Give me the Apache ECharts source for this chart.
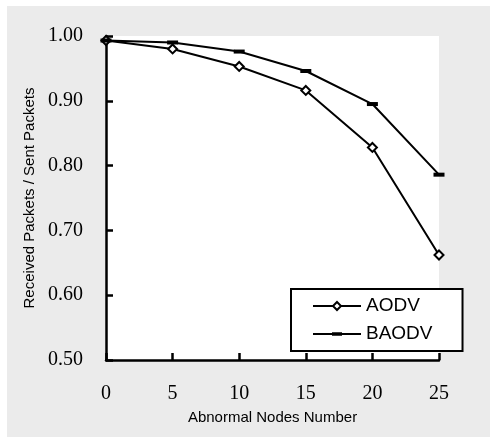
<!DOCTYPE html>
<html>
<head>
<meta charset="utf-8">
<script src="https://cdn.jsdelivr.net/npm/echarts@6/dist/echarts.min.js"></script>
<style>
html,body{margin:0;padding:0;background:#fff;}
#c{width:490px;height:438px;}
</style>
</head>
<body>
<div id="c"></div>
<script>
var xValues = [0, 5, 10, 15, 20, 25];
var aodv = [0.993, 0.980, 0.953, 0.916, 0.828, 0.662];
var baodv = [0.993, 0.990, 0.976, 0.946, 0.895, 0.786];
var seriesNames = ['AODV', 'BAODV'];
var xName = 'Abnormal Nodes Number';
var yName = 'Received Packets / Sent Packets';

function pairs(vals) { return xValues.map(function (x, i) { return [x, vals[i]]; }); }

var chart = echarts.init(document.getElementById('c'));
var axisLine = { lineStyle: { color: '#000', width: 2.5 } };
var axisTick = { inside: true, length: 7, lineStyle: { color: '#000', width: 2.5 } };
chart.setOption({
  animation: false,
  backgroundColor: 'transparent',
  graphic: [{
    type: 'rect', left: 7, top: 6, z: -10,
    shape: { width: 483, height: 431 },
    style: { fill: '#ebebeb' }
  }],
  grid: { left: 106, top: 36, right: 51, bottom: 78, show: true, backgroundColor: '#fff', borderWidth: 0 },
  legend: {
    orient: 'vertical', left: 291, top: 289,
    backgroundColor: '#fff', borderColor: '#000', borderWidth: 2,
    padding: [7, 30, 7, 21],
    itemWidth: 48, itemHeight: 10, itemGap: 8,
    textStyle: { fontFamily: 'Liberation Sans, Arial', fontSize: 19, color: '#000', lineHeight: 20 },
    data: [
      { name: seriesNames[0] },
      { name: seriesNames[1], icon: 'path://M0,4L48,4L48,6L0,6Z M19,3.3L29,3.3L29,6.7L19,6.7Z' }
    ]
  },
  xAxis: {
    type: 'value', min: 0, max: 25, interval: 5,
    name: xName, nameLocation: 'middle', nameGap: 50,
    nameTextStyle: { fontFamily: 'Liberation Sans, Arial', fontSize: 15, color: '#000' },
    axisLine: axisLine, axisTick: axisTick, splitLine: { show: false },
    axisLabel: { margin: 24, fontFamily: 'Liberation Serif, Times New Roman', fontSize: 20, color: '#000' }
  },
  yAxis: {
    type: 'value', min: 0.5, max: 1.0, interval: 0.1,
    name: yName, nameLocation: 'middle', nameGap: 63, nameRotate: 90,
    nameTextStyle: { fontFamily: 'Liberation Sans, Arial', fontSize: 15, color: '#000' },
    axisLine: axisLine, axisTick: axisTick, splitLine: { show: false },
    axisLabel: { margin: 23, fontFamily: 'Liberation Serif, Times New Roman', fontSize: 20, color: '#000',
      formatter: function (v) { return v.toFixed(2); } }
  },
  series: [
    {
      name: seriesNames[0], type: 'line', data: pairs(aodv),
      symbol: 'emptyDiamond', symbolSize: 9, showAllSymbol: true,
      lineStyle: { color: '#000', width: 2 },
      itemStyle: { color: '#000', borderWidth: 2 }
    },
    {
      name: seriesNames[1], type: 'line', data: pairs(baodv),
      symbol: 'rect', symbolSize: [11, 4], showAllSymbol: true,
      lineStyle: { color: '#000', width: 2 },
      itemStyle: { color: '#000' }
    }
  ]
});
</script>
</body>
</html>
